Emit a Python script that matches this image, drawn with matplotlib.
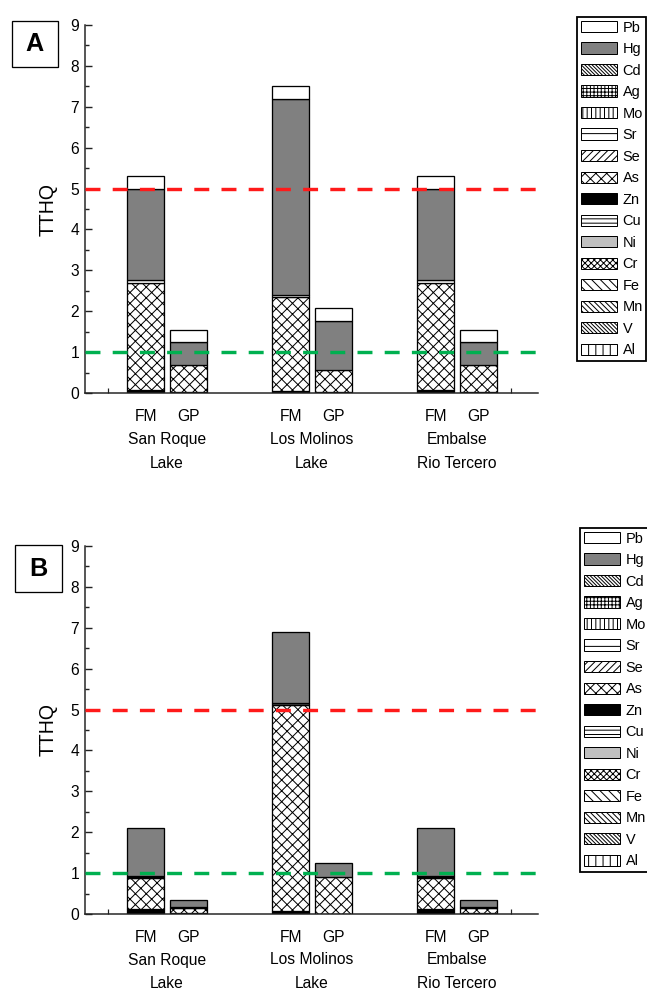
import matplotlib
matplotlib.use("Agg")
import matplotlib.pyplot as plt
from matplotlib.patches import Patch, Rectangle
import numpy as np

plt.rcParams['font.family'] = ['Liberation Sans', 'DejaVu Sans']
plt.rcParams['hatch.linewidth'] = 0.55

DPI = 130
W, H = 647, 992


def px(v):
    return v * 72.0 / DPI


# ---------------- data ----------------
metals = ["Al", "V", "Mn", "Fe", "Cr", "Ni", "Cu", "Zn", "As", "Se",
          "Sr", "Mo", "Ag", "Cd", "Hg", "Pb"]
metal_hatch = ["|||", "\\" * 11, "\\" * 8, "\\" * 5, "x" * 7, "", "-----", "",
               "xxxx", "//////", "---", "|||||", "++++++", "\\" * 12, "", ""]
metal_face = ["white", "white", "white", "white", "white", "#c0c0c0", "white", "black",
              "white", "white", "white", "white", "white", "white", "#808080", "white"]

bar_labels = ["FM", "GP", "FM", "GP", "FM", "GP"]
group_line1 = ["San Roque", "Los Molinos", "Embalse"]
group_line2 = ["Lake", "Lake", "Rio Tercero"]
panel_names = ["A", "B"]
guide_values = [5.0, 1.0]
guide_colors = ["#ff1a1a", "#00b050"]

# Panel A (TTHQ contributions per element; elements not listed are ~0)
A_Zn = [0.07, 0.02, 0.04, 0.02, 0.07, 0.02]
A_As = [2.63, 0.66, 2.31, 0.54, 2.63, 0.66]
A_Sr = [0.07, 0.00, 0.05, 0.00, 0.07, 0.00]
A_Hg = [2.23, 0.57, 4.80, 1.21, 2.23, 0.57]
A_Pb = [0.30, 0.29, 0.32, 0.31, 0.30, 0.29]

# Panel B
B_Zn = [0.12, 0.03, 0.08, 0.00, 0.12, 0.03]
B_As = [0.75, 0.12, 5.03, 0.91, 0.75, 0.12]
B_Sr = [0.06, 0.02, 0.06, 0.00, 0.06, 0.02]
B_Hg = [1.17, 0.18, 1.73, 0.34, 1.17, 0.18]
B_Pb = [0.00, 0.00, 0.00, 0.00, 0.00, 0.00]

panels = [
    {"Zn": A_Zn, "As": A_As, "Sr": A_Sr, "Hg": A_Hg, "Pb": A_Pb},
    {"Zn": B_Zn, "As": B_As, "Sr": B_Sr, "Hg": B_Hg, "Pb": B_Pb},
]

# ---------------- layout ----------------
fig = plt.figure(figsize=(W / DPI, H / DPI), dpi=DPI)

ax_left, ax_right = 85, 538
ax_tops = [25, 546]
ax_bottoms = [393, 914]
legend_anchor = [(577, 17), (580, 528)]
box_rects = [(12, 21, 46, 46), (15, 545, 47, 47)]

group_centers = np.array([0.0, 1.0, 2.0])
offsets = np.array([-0.148, 0.148])
x_pos = np.array([c + o for c in group_centers for o in offsets])
bar_w = 0.255

edge_lw = px(1.3)

for p, data in enumerate(panels):
    top, bot = ax_tops[p], ax_bottoms[p]
    ax = fig.add_axes([ax_left / W, 1 - bot / H, (ax_right - ax_left) / W, (bot - top) / H])

    bottom = np.zeros(len(x_pos))
    for m, metal in enumerate(metals):
        vals = np.array(data.get(metal, [0] * len(x_pos)), dtype=float)
        idx = vals > 0
        if idx.any():
            ax.bar(x_pos[idx], vals[idx], width=bar_w, bottom=bottom[idx],
                   color=metal_face[m], edgecolor="black", hatch=metal_hatch[m] or None,
                   linewidth=edge_lw, zorder=2)
        bottom += vals

    for g, c in zip(guide_values, guide_colors):
        ax.axhline(g, color=c, lw=px(3.4), dashes=(4.4, 3.6), zorder=3)

    ax.set_xlim(-0.566, 2.559)
    ax.set_ylim(0, 9)
    ax.spines['top'].set_visible(False)
    ax.spines['right'].set_visible(False)
    for s in ['left', 'bottom']:
        ax.spines[s].set_linewidth(px(1.5))
        ax.spines[s].set_color('#222222')

    ax.set_yticks(np.arange(0, 10, 1))
    ax.set_yticks(np.arange(0.5, 9, 1), minor=True)
    ax.tick_params(axis='y', which='major', direction='in', length=px(7), width=px(1.4),
                   labelsize=8.7, pad=px(6), colors='#222222', labelcolor='black')
    ax.tick_params(axis='y', which='minor', direction='in', length=px(4), width=px(1.4),
                   colors='#222222')
    ax.set_xticks([-0.41, 2.37])
    ax.set_xticklabels([])
    ax.tick_params(axis='x', which='major', direction='in', length=px(5), width=px(1.2),
                   colors='#222222')

    for xi, lab in zip(x_pos, bar_labels):
        ax.annotate(lab, xy=(xi, 0), xycoords=('data', 'axes fraction'),
                    xytext=(0, -px(23)), textcoords='offset points',
                    ha='center', va='center', fontsize=8.7)
    for gc, l1, l2 in zip(group_centers, group_line1, group_line2):
        ax.annotate(l1, xy=(gc, 0), xycoords=('data', 'axes fraction'),
                    xytext=(0, -px(46)), textcoords='offset points',
                    ha='center', va='center', fontsize=8.7)
        ax.annotate(l2, xy=(gc, 0), xycoords=('data', 'axes fraction'),
                    xytext=(0, -px(70)), textcoords='offset points',
                    ha='center', va='center', fontsize=8.7)

    ax.set_ylabel("TTHQ", fontsize=10.8, labelpad=px(13))

    # panel letter box
    bx, by, bw, bh = box_rects[p]
    fig.patches.append(Rectangle((bx / W, 1 - (by + bh) / H), bw / W, bh / H,
                                 transform=fig.transFigure, fill=False,
                                 edgecolor='black', linewidth=px(1.3)))
    fig.text((bx + bw / 2) / W, 1 - (by + bh / 2) / H, panel_names[p],
             ha='center', va='center', fontsize=14, fontweight='bold')

    # legend
    handles = [Patch(facecolor=metal_face[m], edgecolor='black', hatch=metal_hatch[m] or None,
                     linewidth=px(1.0), label=metals[m]) for m in range(len(metals))][::-1]
    lx, ly = legend_anchor[p]
    fig.legend(handles=handles, loc='upper left',
               bbox_to_anchor=(lx / W, 1 - ly / H),
               bbox_transform=fig.transFigure, borderaxespad=0,
               fontsize=8.0, frameon=True, fancybox=False, shadow=False,
               edgecolor='black', framealpha=1,
               handlelength=2.5, handleheight=0.83, labelspacing=0.52,
               handletextpad=0.4, borderpad=0.25)

fig.savefig("out.png", dpi=DPI)
